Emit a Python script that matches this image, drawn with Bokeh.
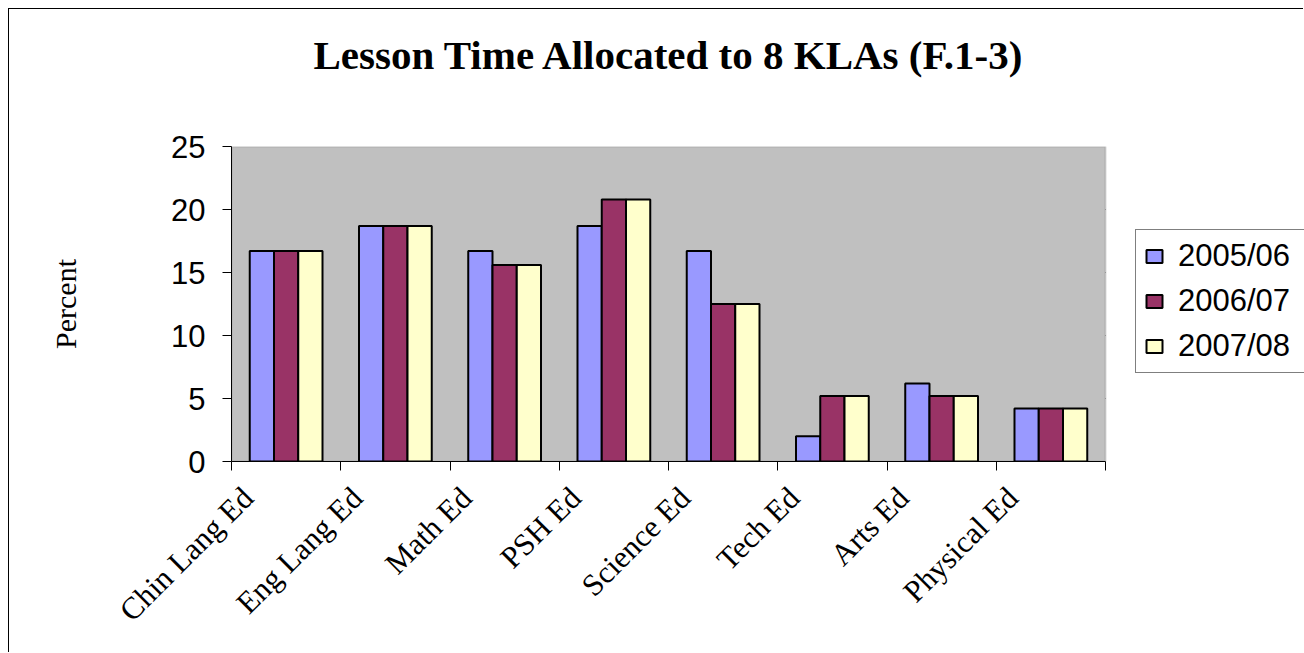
import math
from bokeh.plotting import figure
from bokeh.models import (Range1d, FixedTicker, Legend, LegendItem, ColumnDataSource,
                          BoxAnnotation, Title)
from bokeh.embed import file_html
from bokeh.resources import INLINE

# ---- data ----
title_text = "Lesson Time Allocated to 8 KLAs (F.1-3)"
categories = ["Chin Lang Ed", "Eng Lang Ed", "Math Ed", "PSH Ed",
              "Science Ed", "Tech Ed", "Arts Ed", "Physical Ed"]
years = ["2005/06", "2006/07", "2007/08"]
values_2005_06 = [16.7, 18.7, 16.7, 18.7, 16.7, 2.0, 6.2, 4.2]
values_2006_07 = [16.7, 18.7, 15.6, 20.8, 12.5, 5.2, 5.2, 4.2]
values_2007_08 = [16.7, 18.7, 15.6, 20.8, 12.5, 5.2, 5.2, 4.2]
y_ticks = [0, 5, 10, 15, 20, 25]
y_label = "Percent"

series = [values_2005_06, values_2006_07, values_2007_08]
colors = ["#9999FF", "#993366", "#FFFFCC"]

n = len(categories)
y_max = y_ticks[-1]
bar_w = 0.222
label_shift = 0.15

# layout (pixels)
fig_w, fig_h = 1295, 644
border_left, border_bottom = 222, 192
area_px = 874                      # width of the grey plot area
frame_px = fig_w - border_left     # frame runs to the right edge (legend lives there)
x_end = n * frame_px / area_px

p = figure(width=fig_w, height=fig_h, output_backend="svg", toolbar_location=None,
           x_range=Range1d(0, x_end), y_range=Range1d(0, y_max),
           min_border_left=border_left, min_border_right=0, min_border_top=0,
           min_border_bottom=border_bottom)
p.styles = {"margin-left": "8px", "margin-top": "8px",
            "border-top": "1px solid black", "border-left": "1px solid black"}

p.background_fill_color = "white"
p.border_fill_color = "white"
p.outline_line_color = None

# grey plot area with its border
p.add_layout(BoxAnnotation(left=0, right=n, bottom=0, top=y_max,
                           fill_color="#C0C0C0", fill_alpha=1,
                           line_color="#808080", line_width=2, level="underlay"))

# horizontal grid lines inside the plot area
grid_vals = y_ticks[1:-1]
p.segment(x0=[0] * len(grid_vals), x1=[n] * len(grid_vals), y0=grid_vals, y1=grid_vals,
          line_color="black", line_width=1, level="underlay")
p.xgrid.visible = False
p.ygrid.visible = False

# title (spacer title between frame and main title)
p.add_layout(Title(text=" ", text_font_size="1px", standoff=46), "above")
p.title.text = title_text
p.title.text_font = "Liberation Serif"
p.title.text_font_size = "41px"
p.title.text_font_style = "bold"
p.title.text_color = "black"
p.title.align = "left"
p.title.offset = 82
p.title.standoff = 40

# bars
renderers = []
for j, (vals, col) in enumerate(zip(series, colors)):
    xs = [i + 0.5 + (j - 1) * bar_w for i in range(n)]
    src = ColumnDataSource(dict(x=xs, top=vals))
    r = p.vbar(x="x", top="top", bottom=0, width=bar_w, source=src,
               fill_color=col, line_color="black", line_width=2)
    renderers.append(r)

# y axis
ya = p.yaxis[0]
ya.ticker = FixedTicker(ticks=y_ticks)
ya.axis_line_color = "black"
ya.major_tick_line_color = "black"
ya.major_tick_out = 9
ya.major_tick_in = 0
ya.minor_tick_line_color = None
ya.major_label_text_font = "Liberation Sans"
ya.major_label_text_font_size = "31px"
ya.major_label_text_color = "black"
ya.major_label_standoff = 17
ya.axis_label = y_label
ya.axis_label_text_font = "Liberation Serif"
ya.axis_label_text_font_size = "30px"
ya.axis_label_text_font_style = "normal"
ya.axis_label_text_color = "black"
ya.axis_label_standoff = 86

# x axis
xa = p.xaxis[0]
xa.bounds = (0, n)
label_pos = [i + label_shift for i in range(n)]
xa.ticker = FixedTicker(ticks=label_pos, minor_ticks=list(range(n + 1)))
xa.major_label_overrides = {pos: cat for pos, cat in zip(label_pos, categories)}
xa.axis_line_color = "black"
xa.major_tick_line_color = None
xa.major_tick_out = 0
xa.major_tick_in = 0
xa.minor_tick_line_color = "black"
xa.minor_tick_out = 9
xa.minor_tick_in = 0
xa.major_label_orientation = math.pi / 4
xa.major_label_text_font = "Liberation Serif"
xa.major_label_text_font_size = "31px"
xa.major_label_text_color = "black"
xa.major_label_standoff = 22

# legend, to the right of the plot area, running off the right edge
legend = Legend(items=[LegendItem(label=y, renderers=[r]) for y, r in zip(years, renderers)],
                location=(area_px + 30, 88), orientation="vertical")
legend.label_text_font = "Liberation Sans"
legend.label_text_font_size = "31px"
legend.label_text_color = "black"
legend.glyph_width = 20
legend.glyph_height = 16
legend.label_height = 36
legend.label_width = 140
legend.spacing = 9
legend.padding = 8
legend.margin = 0
legend.label_standoff = 14
legend.border_line_color = "black"
legend.border_line_width = 1
legend.background_fill_color = "white"
legend.background_fill_alpha = 1
p.add_layout(legend)

open("out.html", "w").write(file_html(p, INLINE))
